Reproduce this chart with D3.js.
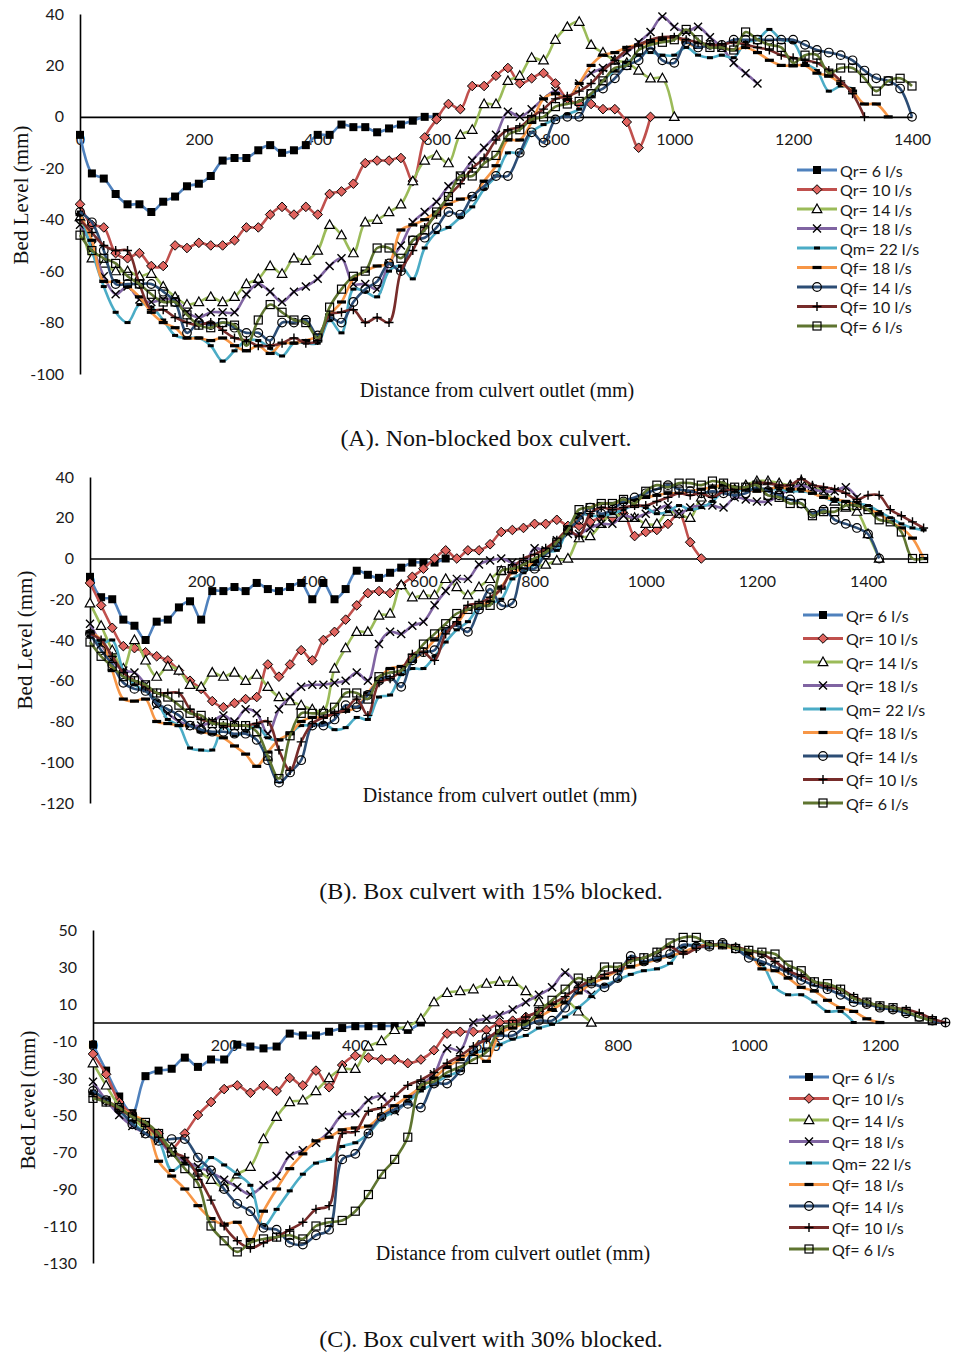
<!DOCTYPE html>
<html>
<head>
<meta charset="utf-8">
<script src="https://cdn.jsdelivr.net/npm/d3@7"></script>
<style>
  body { margin: 0; background: #fff; }
  svg { display: block; }
</style>
</head>
<body>
<script>
// Measuring stations along the flume (mm from the culvert outlet); each profile uses the first n stations
const distance = [0,20,40,60,80,100,120,140,160,180,200,220,240,260,280,300,320,340,360,380,
  400,420,440,460,480,500,520,540,560,580,600,620,640,660,680,700,720,740,760,780,
  800,820,840,860,880,900,920,940,960,980,1000,1020,1040,1060,1080,1100,1120,1140,1160,1180,
  1200,1220,1240,1260,1280,1300,1320,1340,1360,1380,1400,1420,1440,1460,1480,1500];

const seriesNames = ["Qr= 6 l/s","Qr= 10 l/s","Qr= 14 l/s","Qr= 18 l/s","Qm= 22 l/s",
  "Qf= 18 l/s","Qf= 14 l/s","Qf= 10 l/s","Qf= 6 l/s"];
const seriesColors = ["#4F81BD","#C0504D","#9BBB59","#8064A2","#4BACC6",
  "#F79646","#2C4D75","#772C2A","#5F7530"];
const seriesMarkers = ["squareFilled","diamond","triangle","cross","dashShort",
  "dashLong","circle","plus","square"];

// (A) non-blocked culvert: bed level (mm)
const A_Qr6 = [-7,-22,-24,-30,-34,-34,-37,-33,-31,-27, -26,-23,-17,-16,-16,-13,-11,-14,-13,-11,
  -7,-7,-3,-4,-4,-6,-4.5,-3,-1.5,0, 0];
const A_Qr10 = [-34,-42,-43,-53,-55,-53,-58,-58,-50,-51, -49,-50,-50,-48,-43,-43,-38,-35,-38,-35,
  -38,-30,-29,-26,-18,-17,-17,-16,-25,-8, -1,5,3,12,12,16,19,13,15,17, 13,7,5,5,3,3,-2,-12,0];
const A_Qr14 = [-39,-55,-57,-60,-60,-62,-61,-66,-70,-73, -72,-70,-72,-70,-65,-63,-58,-61,-55,-56,
  -52,-42,-46,-53,-41,-40,-37,-34,-25,-17, -15,-18,-7,-5,5,5,14,16,23,22, 30,35,37,28,25,22,21,18,15,15, 0];
const A_Qr18 = [-42,-50,-62,-69,-66,-71,-72,-71,-71,-76, -78,-76,-76,-76,-69,-65,-68,-72,-68,-66,
  -63,-58,-55,-65,-65,-67,-57,-50,-41,-37, -33,-27,-23,-17,-12,-7,2,0,3,7, 10,7,13,17,19,22,25,29,33,39,
  35,33,35,31,27,21,17,13];
const A_Qm22 = [-37,-52,-66,-76,-80,-73,-74,-79,-85,-86, -86,-89,-95,-91,-87,-87,-90,-93,-88,-88,
  -88,-79,-84,-67,-68,-70,-60,-58,-63,-51, -45,-43,-39,-35,-28,-23,-14,-14,-6,-3, -1,1,3,8,14,18,21,24,25,24,
  24,27,24,23,24,23,29,30,34,30, 29,21,18,10,12,11];
const A_Qf18 = [-38,-48,-64,-64,-66,-70,-76,-80,-82,-86, -86,-87,-86,-89,-91,-89,-92,-88,-88,-87,
  -85,-77,-72,-63,-60,-58,-57,-44,-42,-40, -37,-34,-32,-31,-25,-19,-9,-9,-2,7, 9,7,13,20,24,25,27,28,29,30,
  31,29,27,28,27,26,27,25,22,20, 20,20,17,16,13,10,5,5,0];
const A_Qf14 = [-37,-41,-52,-65,-65,-65,-65,-68,-72,-84, -80,-81,-80,-82,-84,-84,-87,-80,-80,-79,
  -85,-78,-80,-72,-67,-64,-57,-60,-48,-47, -43,-37,-38,-31,-27,-23,-23,-14,-6,-10, -1,0,0,9,11,15,20,22,27,22,
  21,29,27,28,28,30,30,30,30,30, 30,28,26,25,24,22,18,15,14,11, 0];
const A_Qf10 = [-40,-45,-50,-52,-52,-65,-75,-75,-78,-80, -81,-80,-83,-86,-87,-89,-89,-88,-86,-88,
  -87,-77,-76,-75,-80,-78,-80,-60,-52,-43, -38,-31,-26,-20,-16,-9,-5,-4,0,3, 7,8,10,13,18,22,26,28,30,31,
  31,30,29,28,28,29,28,27,26,24, 23,22,21,18,14,9,0];
const A_Qf6 = [-46,-52,-55,-57,-62,-65,-69,-72,-72,-77, -81,-82,-80,-81,-89,-79,-73,-76,-79,-80,
  -86,-74,-67,-62,-60,-51,-51,-55,-48,-44, -37,-31,-23,-23,-18,-15,-7,-5,-1,0, 4,5,6,9,14,19,20,26,28,29,
  30,34,30,27,27,26,33,30,28,27, 21,24,24,17,19,19,15,10,14,15, 12];

// (B) culvert 15% blocked
const B_Qr6 = [-9,-19,-20,-30,-33,-40,-31,-30,-24,-21, -30,-16,-16,-14,-16,-12,-15,-16,-14,-12,
  -20,-12,-20,-15,-6,-8,-9.5,-7,-4.5,-2, -2,-2,0];
const B_Qr10 = [-12,-23,-34,-43,-44,-46,-48,-50,-55,-60, -64,-70,-73,-71,-69,-68,-52,-58,-52,-45,
  -50,-40,-36,-30,-23,-17,-16,-17,-13,-9, -5,0,4,0,4,4,7,13,14,15, 17,17,19,16,16,18,20,20,22,11,
  13,14,17,22,8,0];
const B_Qr14 = [-22,-33,-45,-54,-40,-50,-58,-53,-55,-62, -63,-56,-58,-56,-60,-57,-63,-68,-70,-72,
  -74,-75,-54,-44,-36,-36,-28,-27,-13,-19, -18,-18,-10,-14,-18,-14,-10,-6,-5,-4, -4,-3,-1,0,10,11,17,22,20,20,
  17,17,23,22,20,30,34,36,34,36, 38,38,37,36,38,35,33,28,25,23, 12,0];
const B_Qr18 = [-32,-42,-50,-55,-56,-62,-72,-76,-80,-82, -82,-80,-77,-80,-74,-76,-86,-74,-68,-63,
  -62,-62,-61,-60,-56,-60,-42,-36,-37,-33, -31,-23,-16,-10,-10,-3,-1,0,-2,-3, 5,4,9,12,12,15,17,17,21,20,
  22,24,26,22,25,26,26,25,30,29, 28,28,31,34,36,34,33,33,35,30];
const B_Qm22 = [-38,-42,-40,-55,-62,-65,-70,-79,-82,-93, -94,-94,-82,-87,-85,-82,-88,-89,-86,-82,
  -82,-81,-84,-83,-78,-79,-68,-67,-57,-54, -54,-48,-41,-35,-31,-24,-22,-20,-10,-7, -3,3,4,15,22,21,21,22,24,26,
  25,22,23,26,24,25,28,33,33,34, 34,34,34,33,33,32,30,28,28,27, 26,23,20,17,15,14];
const B_Qf18 = [-36,-40,-55,-69,-70,-69,-80,-81,-82,-82, -85,-86,-88,-92,-96,-102,-95,-89,-86,-80,
  -78,-78,-76,-75,-73,-66,-59,-54,-53,-50, -46,-40,-35,-32,-25,-23,-21,-14,-7,-5, -1,4,8,14,20,25,27,27,28,29,
  30,31,32,32,33,34,35,36,35,34, 33,34,35,34,34,32,30,29,28,26, 24,22,18,15,10,0];
const B_Qf14 = [-37,-45,-52,-61,-64,-65,-71,-74,-77,-82, -84,-85,-85,-86,-86,-89,-99,-110,-105,-99,
  -82,-82,-79,-72,-73,-67,-60,-58,-63,-50, -46,-45,-35,-33,-36,-25,-15,-23,-22,-5, -5,2,6,14,19,25,22,24,28,30,
  32,34,36,34,33,32,33,32,31,32, 35,33,31,29,27,22,24,19,17,15, 12,0];
const B_Qf10 = [-37,-40,-48,-56,-60,-63,-66,-66,-66,-74, -79,-80,-82,-82,-82,-81,-80,-94,-104,-90,
  -81,-78,-76,-74,-69,-77,-61,-59,-55,-47, -46,-50,-37,-31,-23,-22,-19,-15,-5,0, 2,5,9,14,11,22,25,24,25,26,
  26,28,30,32,31,32,30,33,34,35, 37,37,36,36,39,36,35,34,32,29, 31,31,24,21,18,15];
const B_Qf6 = [-41,-48,-53,-58,-60,-62,-66,-68,-72,-76, -77,-81,-81,-82,-82,-85,-97,-108,-87,-76,
  -76,-76,-73,-66,-66,-69,-58,-56,-55,-49, -42,-37,-32,-27,-25,-23,-23,-6,-5,-3, 0,3,8,14,24,25,27,27,29,27,
  33,36,35,37,37,36,38,37,35,35, 36,31,30,27,27,21,23,23,26,26, 24,19,18,13,0,0];

// (C) culvert 30% blocked
const C_Qr6 = [-12,-26,-40,-49,-29,-26,-25,-19,-24,-20, -20,-12,-13,-14,-13,-6,-7,-7,-5,-3,
  -2,-2,-2,-2,-4,0];
const C_Qr10 = [-17,-28,-43,-50,-57,-60,-68,-60,-50,-43, -36,-34,-38,-34,-37,-30,-34,-26,-35,-23,
  -18,-19,-20,-20,-22,-20,-15,-6,-5,-5, -4,0,1,3,6,10];
const C_Qr14 = [-22,-34,-45,-51,-58,-62,-68,-75,-80,-85, -89,-82,-78,-63,-51,-43,-42,-37,-30,-25,
  -25,-13,-10,-4,-2,2,11,16,17,18, 21,22,22,17,11,8,12,6,0];
const C_Qr18 = [-32,-42,-50,-56,-60,-64,-71,-75,-78,-81, -85,-89,-93,-88,-83,-72,-69,-65,-59,-50,
  -49,-42,-40,-48,-42,-34,-28,-14,-15,0, 2,4,7,11,15,19,27,20,15];
const C_Qm22 = [-37,-42,-48,-54,-60,-64,-80,-76,-80,-73, -77,-82,-88,-110,-101,-91,-82,-76,-74,-67,
  -65,-60,-52,-48,-43,-37,-33,-29,-26,-17, -15,-12,-9,-7,-3,-1,3,8,14,20, 23,26,28,29,32,41,42,42,42,40,
  36,32,19,15,15,11,6,6,0];
const C_Qf18 = [-38,-42,-46,-50,-54,-75,-83,-90,-99,-106, -109,-108,-118,-102,-90,-79,-71,-64,-62,-58,
  -57,-56,-50,-45,-40,-35,-30,-24,-20,-16, -21,-6,-3,0,3,7,11,16,21,24, 28,30,32,34,36,38,41,42,41,40,
  38,29,28,24,19,17,12,8,6,2, 0];
const C_Qf14 = [-37,-42,-47,-55,-60,-64,-63,-63,-73,-80, -90,-98,-102,-111,-112,-119,-120,-115,-112,-74,
  -71,-60,-51,-47,-44,-46,-33,-33,-26,-15, -8,-7,-7,-2,1,1,8,18,21,19, 24,36,33,35,37,42,41,41,43,40,
  35,33,30,27,23,20,18,15,11,10, 8,7,5,3,1,0];
const C_Qf10 = [-40,-43,-47,-51,-55,-62,-70,-73,-83,-96, -110,-118,-122,-119,-116,-112,-108,-101,-99,-60,
  -59,-48,-46,-40,-34,-31,-27,-22,-18,-13, -9,-4,-1,3,6,10,14,19,23,26, 28,34,35,38,41,37,40,42,42,41,
  39,37,33,28,25,22,19,18,14,11, 9,8,7,5,2,0];
const C_Qf6 = [-41,-43,-46,-51,-54,-60,-70,-79,-87,-110, -118,-124,-119,-117,-116,-115,-117,-110,-108,-107,
  -102,-93,-82,-74,-62,-34,-32,-27,-24,-20, -16,-4,-1,-1,6,12,18,24,22,30, 30,33,35,38,43,46,46,42,42,40,
  39,38,37,31,28,22,21,18,13,11, 9,8,6,3,1];

// Axis tick labels
const xTicksA = [0,200,400,600,800,1000,1200,1400];
const yTicksA = [40,20,0,-20,-40,-60,-80,-100];
const xTicksB = [0,200,400,600,800,1000,1200,1400];
const yTicksB = [40,20,0,-20,-40,-60,-80,-100,-120];
const xTicksC = [0,200,400,600,800,1000,1200];
const yTicksC = [50,30,10,-10,-30,-50,-70,-90,-110,-130];

const captions = ["(A). Non-blocked box culvert.", "(B). Box culvert with 15% blocked.",
  "(C). Box culvert with 30% blocked."];
const yTitle = "Bed Level (mm)";
const xTitle = "Distance from culvert outlet (mm)";

// Layout of the three stacked panels
const panels = [
  { values: [A_Qr6,A_Qr10,A_Qr14,A_Qr18,A_Qm22,A_Qf18,A_Qf14,A_Qf10,A_Qf6],
    xDomain: [0,1400], xRange: [80,912], yDomain: [-100,40], yRange: [374,14],
    xTicks: xTicksA, yTicks: yTicksA, caption: captions[0],
    legend: {x: 797, y: 170, dy: 19.5}, yTitlePos: {x: 21, y: 195},
    xTitlePos: {x: 497, y: 390}, captionPos: {x: 486, y: 438} },
  { values: [B_Qr6,B_Qr10,B_Qr14,B_Qr18,B_Qm22,B_Qf18,B_Qf14,B_Qf10,B_Qf6],
    xDomain: [0,1500], xRange: [90,923.6], yDomain: [-120,40], yRange: [803,477],
    xTicks: xTicksB, yTicks: yTicksB, caption: captions[1],
    legend: {x: 803, y: 615, dy: 23.5}, yTitlePos: {x: 25, y: 640},
    xTitlePos: {x: 500, y: 795}, captionPos: {x: 491, y: 891} },
  { values: [C_Qr6,C_Qr10,C_Qr14,C_Qr18,C_Qm22,C_Qf18,C_Qf14,C_Qf10,C_Qf6],
    xDomain: [0,1300], xRange: [93,945.5], yDomain: [-130,50], yRange: [1263,930],
    xTicks: xTicksC, yTicks: yTicksC, caption: captions[2],
    legend: {x: 789, y: 1077, dy: 21.5}, yTitlePos: {x: 28, y: 1100},
    xTitlePos: {x: 513, y: 1253}, captionPos: {x: 491, y: 1339} }
];

const SANS = "Lato, 'Open Sans', sans-serif";
const SERIF = "'Liberation Serif', 'DejaVu Serif', serif";

const svg = d3.select("body").append("svg")
  .attr("width", 954).attr("height", 1354)
  .attr("viewBox", "0 0 954 1354");

svg.append("rect").attr("width", 954).attr("height", 1354).attr("fill", "#fff");

function drawMarker(g, type, color) {
  switch (type) {
    case "squareFilled":
      g.append("rect").attr("x", -4).attr("y", -4).attr("width", 8).attr("height", 8).attr("fill", "#000");
      break;
    case "diamond":
      g.append("path").attr("d", "M0,-4.8L4.8,0L0,4.8L-4.8,0Z")
        .attr("fill", "#E0645F").attr("stroke", "#000").attr("stroke-width", 1);
      break;
    case "triangle":
      g.append("path").attr("d", "M0,-5L4.8,3.6L-4.8,3.6Z")
        .attr("fill", "#fff").attr("stroke", "#000").attr("stroke-width", 1.2);
      break;
    case "cross":
      g.append("path").attr("d", "M-4,-4L4,4M-4,4L4,-4")
        .attr("stroke", "#000").attr("stroke-width", 1.4).attr("fill", "none");
      break;
    case "dashShort":
      g.append("rect").attr("x", -3).attr("y", -1.5).attr("width", 6).attr("height", 3).attr("fill", "#000");
      break;
    case "dashLong":
      g.append("rect").attr("x", -4.5).attr("y", -1.6).attr("width", 9).attr("height", 3.2).attr("fill", "#000");
      break;
    case "circle":
      g.append("circle").attr("r", 4.3)
        .attr("fill", "none").attr("stroke", "#000").attr("stroke-width", 1.2);
      break;
    case "plus":
      g.append("path").attr("d", "M-4.5,0H4.5M0,-4.5V4.5")
        .attr("stroke", "#000").attr("stroke-width", 1.4).attr("fill", "none");
      break;
    case "square":
      g.append("rect").attr("x", -4).attr("y", -4).attr("width", 8).attr("height", 8)
        .attr("fill", "none").attr("stroke", "#000").attr("stroke-width", 1.2);
      break;
  }
}

panels.forEach(p => {
  const x = d3.scaleLinear().domain(p.xDomain).range(p.xRange);
  const y = d3.scaleLinear().domain(p.yDomain).range(p.yRange);
  const g = svg.append("g");

  // y axis (left) with labels, no tick marks
  const yAxis = g.append("g")
    .attr("transform", `translate(${p.xRange[0]},0)`)
    .call(d3.axisLeft(y).tickValues(p.yTicks).tickSize(0).tickSizeOuter(0)
      .tickPadding(16).tickFormat(d => String(d)));
  // x axis drawn along the zero line
  const xAxis = g.append("g")
    .attr("transform", `translate(0,${y(0)})`)
    .call(d3.axisBottom(x).tickValues(p.xTicks).tickSize(0).tickSizeOuter(0)
      .tickPadding(17).tickFormat(d => String(d)));

  [yAxis, xAxis].forEach(a => {
    a.select(".domain").attr("stroke", "#000").attr("stroke-width", 1.6);
    a.selectAll("text").attr("font-family", SANS).attr("font-size", 16).attr("fill", "#1a1a1a");
  });

  // axis titles
  g.append("text")
    .attr("transform", `translate(${p.yTitlePos.x},${p.yTitlePos.y}) rotate(-90)`)
    .attr("text-anchor", "middle").attr("dominant-baseline", "central")
    .attr("font-family", SERIF).attr("font-size", 21).attr("fill", "#111")
    .text(yTitle);
  g.append("text")
    .attr("x", p.xTitlePos.x).attr("y", p.xTitlePos.y)
    .attr("text-anchor", "middle").attr("dominant-baseline", "central")
    .attr("font-family", SERIF).attr("font-size", 20).attr("fill", "#111")
    .text(xTitle);

  // profiles: smoothed line followed by its markers, series by series
  const line = d3.line()
    .x(d => x(d[0])).y(d => y(d[1]))
    .curve(d3.curveCatmullRom.alpha(0.5));

  p.values.forEach((vals, si) => {
    const pts = vals.map((v, i) => [distance[i], v]);
    const sg = g.append("g");
    sg.append("path").datum(pts)
      .attr("d", line)
      .attr("fill", "none")
      .attr("stroke", seriesColors[si])
      .attr("stroke-width", 2.6)
      .attr("stroke-linejoin", "round");
    sg.selectAll("g.mk").data(pts).join("g")
      .attr("class", "mk")
      .attr("transform", d => `translate(${x(d[0])},${y(d[1])})`)
      .each(function () { drawMarker(d3.select(this), seriesMarkers[si], seriesColors[si]); });
  });

  // legend
  const lg = g.append("g");
  seriesNames.forEach((name, i) => {
    const ly = p.legend.y + i * p.legend.dy;
    const row = lg.append("g").attr("transform", `translate(${p.legend.x},${ly})`);
    row.append("line").attr("x1", 0).attr("x2", 40).attr("y1", 0).attr("y2", 0)
      .attr("stroke", seriesColors[i]).attr("stroke-width", 3);
    drawMarker(row.append("g").attr("transform", "translate(20,0)"), seriesMarkers[i], seriesColors[i]);
    row.append("text").attr("x", 43).attr("y", 0)
      .attr("dominant-baseline", "central")
      .attr("font-family", SANS).attr("font-size", 16).attr("fill", "#1a1a1a")
      .text(name);
  });

  // caption
  g.append("text")
    .attr("x", p.captionPos.x).attr("y", p.captionPos.y)
    .attr("text-anchor", "middle").attr("dominant-baseline", "central")
    .attr("font-family", SERIF).attr("font-size", 24).attr("fill", "#111")
    .text(p.caption);
});
</script>
</body>
</html>
